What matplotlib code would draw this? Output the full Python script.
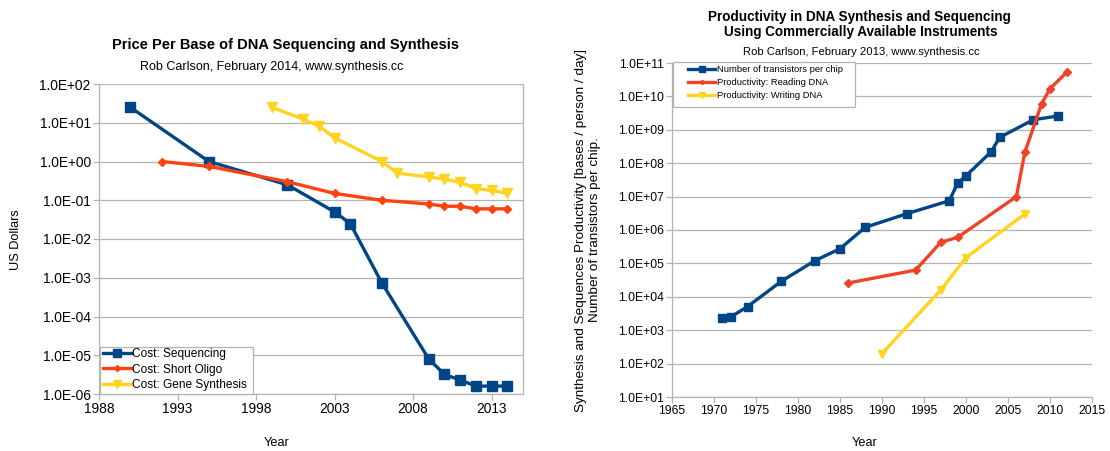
import matplotlib
matplotlib.use("Agg")
import matplotlib.pyplot as plt
from matplotlib.ticker import FuncFormatter, FixedLocator, NullLocator
from matplotlib.patches import Rectangle
from matplotlib.transforms import Affine2D

plt.rcParams['font.family'] = ['Liberation Sans', 'DejaVu Sans']

# ---- Left chart data: price per base (US Dollars)
seq_years = [1990, 1995, 2000, 2003, 2004, 2006, 2009, 2010, 2011, 2012, 2013, 2014]
seq_cost = [25, 1.0, 0.25, 0.05, 0.025, 7.5e-4, 8e-6, 3.2e-6, 2.3e-6, 1.6e-6, 1.6e-6, 1.6e-6]
oligo_years = [1992, 1995, 2000, 2003, 2006, 2009, 2010, 2011, 2012, 2013, 2014]
oligo_cost = [1.0, 0.75, 0.3, 0.15, 0.1, 0.08, 0.07, 0.07, 0.06, 0.06, 0.06]
gene_years = [1999, 2001, 2002, 2003, 2006, 2007, 2009, 2010, 2011, 2012, 2013, 2014]
gene_cost = [25, 12.5, 8.2, 4.1, 1.0, 0.5, 0.4, 0.35, 0.29, 0.2, 0.18, 0.15]

# ---- Right chart data: productivity
trans_years = [1971, 1972, 1974, 1978, 1982, 1985, 1988, 1993, 1998, 1999, 2000, 2003, 2004, 2008, 2011]
trans_count = [2300, 2500, 5100, 29000, 120000, 275000, 1.2e6, 3.1e6, 7.5e6, 2.5e7, 4.2e7, 2.2e8, 5.9e8, 2.0e9, 2.6e9]
read_years = [1986, 1994, 1997, 1999, 2006, 2007, 2009, 2010, 2012]
read_prod = [2.6e4, 6.3e4, 4.3e5, 6.0e5, 1.0e7, 2.1e8, 6.0e9, 1.7e10, 5.3e10]
write_years = [1990, 1997, 2000, 2007]
write_prod = [200, 1.6e4, 1.5e5, 3.0e6]

left_xticks = [1988, 1993, 1998, 2003, 2008, 2013]
right_xticks = [1965, 1970, 1975, 1980, 1985, 1990, 1995, 2000, 2005, 2010, 2015]

BLUE = '#004586'
ORANGE = '#ff420e'
YELLOW = '#ffd320'
RED = '#ee4327'
GRID = '#b3b3b3'

W, H = 1110, 451
fig = plt.figure(figsize=(W / 100, H / 100), dpi=100)
# transform: figure pixels measured from top-left
PX = Affine2D().scale(1.0 / W, -1.0 / H).translate(0, 1) + fig.transFigure


def px_axes(x0, y0, x1, y1):
    return fig.add_axes([x0 / W, 1 - y1 / H, (x1 - x0) / W, (y1 - y0) / H])


sci = FuncFormatter(lambda v, p: f"{v:.1E}")


def style(ax, ticksize):
    ax.set_yscale('log')
    ax.yaxis.set_major_formatter(sci)
    ax.yaxis.set_minor_locator(NullLocator())
    ax.grid(axis='y', color=GRID, lw=0.9)
    ax.set_axisbelow(True)
    for s in ax.spines.values():
        s.set_color(GRID)
        s.set_linewidth(0.9)
    ax.spines['top'].set_visible(False)
    ax.tick_params(direction='out', length=4, width=0.9, color=GRID,
                   labelsize=ticksize, labelcolor='black', pad=2)


def frame(x0, y0, x1, y1):
    fig.patches.append(Rectangle((x0, y0), x1 - x0, y1 - y0, transform=PX,
                                 facecolor='white', edgecolor=GRID, lw=0.9, zorder=5))


# ---------------- Left chart
ax1 = px_axes(99, 84, 523, 394)
style(ax1, 9.9)
ax1.set_xlim(1988, 2015)
ax1.set_ylim(1e-6, 1e2)
ax1.xaxis.set_major_locator(FixedLocator(left_xticks))
ax1.yaxis.set_major_locator(FixedLocator([10.0 ** k for k in range(-6, 3)]))
ax1.plot(seq_years, seq_cost, color=BLUE, lw=2.4, marker='s', ms=6.8, label='Cost: Sequencing')
ax1.plot(oligo_years, oligo_cost, color=ORANGE, lw=2.4, marker='D', ms=4, label='Cost: Short Oligo')
ax1.plot(gene_years, gene_cost, color=YELLOW, lw=2.4, marker='v', ms=6.8, label='Cost: Gene Synthesis')

frame(99.5, 347, 253, 394)
h1, l1 = ax1.get_legend_handles_labels()
leg1 = fig.legend(h1, l1, loc='upper left', bbox_to_anchor=(103, 348), bbox_transform=PX,
                  borderaxespad=0, borderpad=0, fontsize=8.6, frameon=False,
                  handlelength=2.35, handletextpad=0.1, labelspacing=0.3, markerscale=0.75)
leg1.set_zorder(6)

fig.text(286 / W, 1 - 45 / H, 'Price Per Base of DNA Sequencing and Synthesis',
         ha='center', va='center', fontsize=10.5, fontweight='bold')
fig.text(272 / W, 1 - 67 / H, 'Rob Carlson, February 2014, www.synthesis.cc',
         ha='center', va='center', fontsize=9)
fig.text(16 / W, 1 - 240 / H, 'US Dollars', rotation=90, ha='center', va='center', fontsize=9.2)
fig.text(277 / W, 1 - 443 / H, 'Year', ha='center', va='center', fontsize=9.2)

# ---------------- Right chart
ax2 = px_axes(672, 63, 1092, 397)
style(ax2, 8.8)
ax2.spines['right'].set_visible(False)
ax2.set_xlim(1965, 2015)
ax2.set_ylim(1e1, 1e11)
ax2.xaxis.set_major_locator(FixedLocator(right_xticks))
ax2.yaxis.set_major_locator(FixedLocator([10.0 ** k for k in range(1, 12)]))
ax2.plot(trans_years, trans_count, color=BLUE, lw=2.4, marker='s', ms=6.3, label='Number of transistors per chip')
ax2.plot(read_years, read_prod, color=RED, lw=2.4, marker='D', ms=3.6, label='Productivity: Reading DNA')
ax2.plot(write_years, write_prod, color=YELLOW, lw=2.4, marker='v', ms=6.3, label='Productivity: Writing DNA')

frame(672.5, 62, 855, 107)
h2, l2 = ax2.get_legend_handles_labels()
leg2 = fig.legend(h2, l2, loc='upper left', bbox_to_anchor=(688, 65), bbox_transform=PX,
                  borderaxespad=0, borderpad=0, fontsize=6.75, frameon=False,
                  handlelength=2.9, handletextpad=0.2, labelspacing=0.42, markerscale=0.6)
leg2.set_zorder(6)

fig.text(859 / W, 1 - 17 / H, 'Productivity in DNA Synthesis and Sequencing',
         ha='center', va='center', fontsize=9.75, fontweight='bold')
fig.text(861 / W, 1 - 32 / H, 'Using Commercially Available Instruments',
         ha='center', va='center', fontsize=9.75, fontweight='bold')
fig.text(861 / W, 1 - 52 / H, 'Rob Carlson, February 2013, www.synthesis.cc',
         ha='center', va='center', fontsize=8.1)
fig.text(588 / W, 1 - 230 / H,
         'Synthesis and Sequences Productivity [bases / person / day]\nNumber of transistors per chip.',
         rotation=90, ha='center', va='center', fontsize=9.7, linespacing=1.15, multialignment='center')
fig.text(865 / W, 1 - 443 / H, 'Year', ha='center', va='center', fontsize=9.2)

fig.savefig('out.png', dpi=100, facecolor='white')
